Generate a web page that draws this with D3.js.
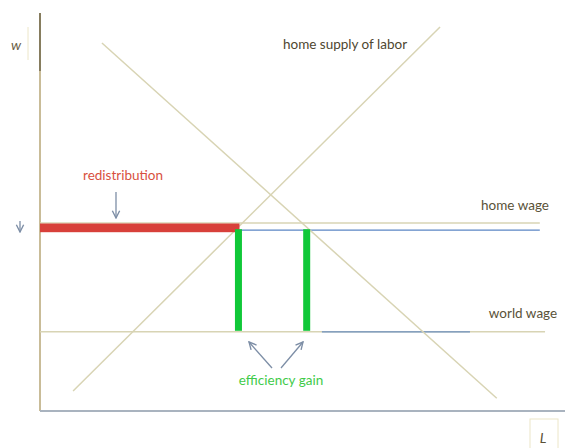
<!DOCTYPE html>
<style>
  body { margin: 0; background: #fff; }
  svg { font-family: "Lato", "Open Sans", sans-serif; }
</style>
<svg width="565" height="448"></svg>
<script src="https://d3js.org/d3.v7.min.js"></script>
<script>

// labour (L) and wage (w) on a 0-100 scale
var supply = [{L: 6.3, w: 5}, {L: 76.2, w: 96}];
var demand = [{L: 11.8, w: 92}, {L: 87.0, w: 3.2}];
var homeWage = 47;
var taxedWage = 45.2;
var worldWage = 19.8;
var redistribution = [0, 38];
var gainBars = [37.8, 50.8];
var blueWorld = [53.7, 81.9];

var svg = d3.select("svg"),
    width = +svg.attr("width"),
    height = +svg.attr("height");

var x = d3.scaleLinear().domain([0, 100]).range([40, 565]);
var y = d3.scaleLinear().domain([0, 100]).range([411, 11]);

var line = d3.line()
    .x(function(d) { return x(d.L); })
    .y(function(d) { return y(d.w); });

var tan = "#d8d4b4";

// axes
svg.append("line")
    .attr("x1", x(0)).attr("x2", x(0))
    .attr("y1", y(99.5)).attr("y2", y(0))
    .attr("stroke", "#c9bc98").attr("stroke-width", 2);
svg.append("line")
    .attr("x1", x(0)).attr("x2", x(0))
    .attr("y1", y(99.5)).attr("y2", y(85))
    .attr("stroke", "#5a5238").attr("stroke-width", 1.2);
svg.append("line")
    .attr("x1", x(0)).attr("x2", x(100))
    .attr("y1", y(0)).attr("y2", y(0))
    .attr("stroke", "#a9b3bf").attr("stroke-width", 2);

// wage lines
svg.append("line")
    .attr("x1", x(0)).attr("x2", x(95.2))
    .attr("y1", y(homeWage)).attr("y2", y(homeWage))
    .attr("stroke", tan).attr("stroke-width", 1.5);
svg.append("line")
    .attr("x1", x(redistribution[1])).attr("x2", x(95.2))
    .attr("y1", y(taxedWage)).attr("y2", y(taxedWage))
    .attr("stroke", "#5b86c4").attr("stroke-width", 1.2);
svg.append("line")
    .attr("x1", x(0)).attr("x2", x(96.2))
    .attr("y1", y(worldWage)).attr("y2", y(worldWage))
    .attr("stroke", tan).attr("stroke-width", 1.5);
svg.append("line")
    .attr("x1", x(blueWorld[0])).attr("x2", x(blueWorld[1]))
    .attr("y1", y(worldWage)).attr("y2", y(worldWage))
    .attr("stroke", "#6b8fc2").attr("stroke-width", 1.2);

// supply and demand
svg.append("path").datum(supply).attr("d", line)
    .attr("fill", "none").attr("stroke", tan).attr("stroke-width", 1.5);
svg.append("path").datum(demand).attr("d", line)
    .attr("fill", "none").attr("stroke", tan).attr("stroke-width", 1.5);

// red redistribution bar
svg.append("rect")
    .attr("x", x(redistribution[0]))
    .attr("y", y(homeWage) + 0.5)
    .attr("width", x(redistribution[1]) - x(redistribution[0]))
    .attr("height", y(taxedWage) - y(homeWage) + 1.5)
    .attr("fill", "#d8403a");

// green efficiency bars
svg.selectAll(".gain")
    .data(gainBars)
  .enter().append("rect")
    .attr("class", "gain")
    .attr("x", function(d) { return x(d) - 3.5; })
    .attr("y", y(taxedWage) - 1)
    .attr("width", 7)
    .attr("height", y(worldWage) - y(taxedWage))
    .attr("fill", "#10c838");

// arrows
svg.append("defs").append("marker")
    .attr("id", "head")
    .attr("viewBox", "0 0 10 10")
    .attr("refX", 9).attr("refY", 5)
    .attr("markerWidth", 7).attr("markerHeight", 7)
    .attr("orient", "auto")
  .append("path")
    .attr("d", "M1,1 L9,5 L1,9")
    .attr("fill", "none").attr("stroke", "#7d8ea6").attr("stroke-width", 1.5);

function arrow(x1, y1, x2, y2) {
  svg.append("line")
      .attr("x1", x1).attr("y1", y1).attr("x2", x2).attr("y2", y2)
      .attr("stroke", "#7d8ea6").attr("stroke-width", 1.3)
      .attr("marker-end", "url(#head)");
}
arrow(116, 192, 116, 218);
arrow(20, 221, 20, 232);
arrow(272, 368, 249, 342);
arrow(281, 368, 303, 342);

// labels
svg.append("text")
    .attr("x", 16).attr("y", 50)
    .attr("text-anchor", "middle")
    .style("font-size", "14px").style("font-style", "italic")
    .attr("fill", "#6a6046")
    .text("w");
svg.append("line")
    .attr("x1", 28).attr("x2", 28).attr("y1", 27).attr("y2", 60)
    .attr("stroke", "#ece6c8").attr("stroke-width", 1);

svg.append("rect")
    .attr("x", 530).attr("y", 419).attr("width", 28).attr("height", 32)
    .attr("fill", "none").attr("stroke", "#ece6c8");
svg.append("text")
    .attr("x", 543).attr("y", 443)
    .attr("text-anchor", "middle")
    .style("font-size", "14px").style("font-style", "italic")
    .attr("fill", "#5a5036")
    .text("L");

var labelSize = "13.5px";

svg.append("text")
    .attr("x", 345).attr("y", 49)
    .attr("text-anchor", "middle")
    .style("font-size", labelSize)
    .attr("fill", "#4e4630")
    .text("home supply of labor");

svg.append("text")
    .attr("x", 123).attr("y", 180)
    .attr("text-anchor", "middle")
    .style("font-size", labelSize)
    .attr("fill", "#d8503e")
    .text("redistribution");

svg.append("text")
    .attr("x", 515).attr("y", 210)
    .attr("text-anchor", "middle")
    .style("font-size", labelSize)
    .attr("fill", "#5a5238")
    .text("home wage");

svg.append("text")
    .attr("x", 523).attr("y", 318)
    .attr("text-anchor", "middle")
    .style("font-size", labelSize)
    .attr("fill", "#5a5238")
    .text("world wage");

svg.append("text")
    .attr("x", 281).attr("y", 385)
    .attr("text-anchor", "middle")
    .style("font-size", labelSize)
    .attr("fill", "#3fcb4a")
    .text("efficiency gain");

</script>
